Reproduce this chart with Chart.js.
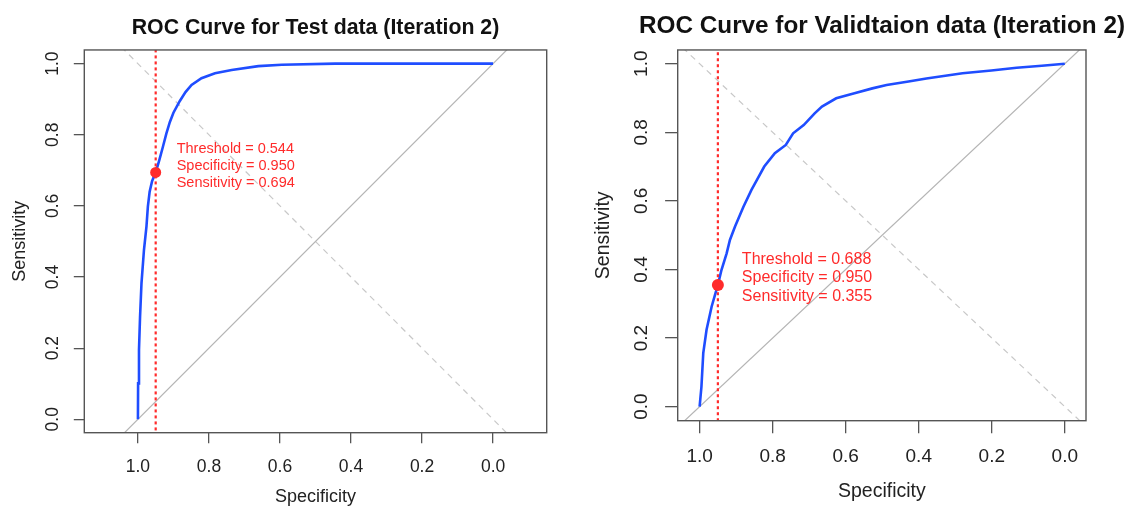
<!DOCTYPE html>
<html>
<head>
<meta charset="utf-8">
<script src="https://cdn.jsdelivr.net/npm/chart.js@4.4.1/dist/chart.umd.min.js"></script>
<style>
  html, body { margin: 0; padding: 0; background: #fff; overflow: hidden; }
  #wrap { position: relative; width: 1133px; height: 506px; }
  canvas { position: absolute; top: 0; }
</style>
</head>
<body>
<div id="wrap">
  <canvas id="rocTest" width="631" height="506" style="left:0"></canvas>
  <canvas id="rocValid" width="632" height="506" style="left:566px"></canvas>
</div>
<script>
// ---- data ----
const TICKS = [0, 0.2, 0.4, 0.6, 0.8, 1.0];

const TEST_SPEC = [1.0, 0.9995, 0.997, 0.994, 0.990, 0.983, 0.976, 0.972, 0.967, 0.960, 0.950, 0.940, 0.930, 0.920, 0.910, 0.900, 0.882, 0.866, 0.849, 0.821, 0.783, 0.736, 0.661, 0.595, 0.445, 0.0];
const TEST_SENS = [0.0, 0.101, 0.195, 0.289, 0.382, 0.476, 0.542, 0.598, 0.640, 0.670, 0.694, 0.728, 0.765, 0.803, 0.836, 0.862, 0.895, 0.920, 0.940, 0.959, 0.973, 0.982, 0.993, 0.997, 1.0, 1.0];

const VALID_SPEC = [1.0, 0.995, 0.990, 0.981, 0.967, 0.950, 0.940, 0.926, 0.917, 0.903, 0.880, 0.858, 0.843, 0.823, 0.794, 0.764, 0.744, 0.715, 0.685, 0.665, 0.626, 0.576, 0.527, 0.488, 0.428, 0.379, 0.280, 0.201, 0.132, 0.063, 0.0];
const VALID_SENS = [0.0, 0.058, 0.156, 0.224, 0.292, 0.355, 0.399, 0.447, 0.486, 0.525, 0.583, 0.632, 0.661, 0.700, 0.739, 0.763, 0.797, 0.821, 0.855, 0.875, 0.899, 0.914, 0.928, 0.938, 0.948, 0.957, 0.972, 0.980, 0.988, 0.994, 1.0];

// best threshold: [threshold, specificity, sensitivity]
const TEST_BEST = [0.544, 0.950, 0.694];
const VALID_BEST = [0.688, 0.950, 0.355];

// reference diagonals (clipped to plot box)
const CHANCE_LINE = [[1.2, -0.2], [-0.2, 1.2]];
const CROSS_LINE = [[1.2, 1.2], [-0.2, -0.2]];

const BLUE = '#1f4dff';
const RED = '#ff2b2b';
const FONT = "'Liberation Sans', Arial, Helvetica, sans-serif";

const toPts = (xs, ys) => xs.map((x, i) => ({ x: x, y: ys[i] }));

// draws the box around the plot and the threshold text
const boxAndLabel = {
    id: 'boxAndLabel',
    afterDatasetsDraw(chart, args, opts) {
        const { ctx, chartArea: a, scales } = chart;
        ctx.save();
        ctx.strokeStyle = '#555';
        ctx.lineWidth = 1.4;
        ctx.strokeRect(a.left, a.top, a.right - a.left, a.bottom - a.top);

        const best = opts.best;
        const px = scales.x.getPixelForValue(best[1]);
        const py = scales.y.getPixelForValue(best[2]);
        const lines = [
            'Threshold = ' + best[0].toFixed(3),
            'Specificity = ' + best[1].toFixed(3),
            'Sensitivity = ' + best[2].toFixed(3),
        ];
        ctx.fillStyle = RED;
        ctx.font = opts.size + 'px ' + FONT;
        ctx.textAlign = 'left';
        ctx.textBaseline = 'middle';
        lines.forEach((t, i) => {
            ctx.fillText(t, px + opts.dx, py + opts.dy + (i - 1) * opts.lh);
        });
        ctx.restore();
    }
};

function makeRoc(id, title, spec, sens, best, L) {
    const ctx = document.getElementById(id).getContext('2d');
    return new Chart(ctx, {
        type: 'scatter',
        data: {
            datasets: [
                {
                    data: [{ x: best[1], y: best[2] }],
                    pointRadius: L.dot, pointBackgroundColor: RED, pointBorderWidth: 0,
                },
                {
                    data: [{ x: best[1], y: -0.2 }, { x: best[1], y: 1.2 }],
                    showLine: true, pointRadius: 0, borderColor: RED, borderWidth: 2.2,
                    borderDash: [3, 3],
                },
                {
                    data: toPts(spec, sens),
                    showLine: true, pointRadius: 0, borderColor: BLUE, borderWidth: 2.6,
                },
                {
                    data: CHANCE_LINE.map(p => ({ x: p[0], y: p[1] })),
                    showLine: true, pointRadius: 0, borderColor: '#b4b4b4', borderWidth: 1.2,
                },
                {
                    data: CROSS_LINE.map(p => ({ x: p[0], y: p[1] })),
                    showLine: true, pointRadius: 0, borderColor: '#c8c8c8', borderWidth: 1.2,
                    borderDash: [6, 5],
                },
            ],
        },
        options: {
            responsive: false,
            animation: false,
            devicePixelRatio: 1,
            layout: { padding: 0 },
            plugins: {
                legend: { display: false },
                tooltip: { enabled: false },
                title: {
                    display: true, text: title, color: '#111',
                    font: { family: FONT, size: L.titleSize, weight: 'bold', lineHeight: 1.2 },
                    padding: { top: L.titleTop, bottom: L.titleBottom },
                },
                boxAndLabel: { best: best, size: L.noteSize, dx: L.noteDx, dy: L.noteDy, lh: L.noteLh },
            },
            scales: {
                x: {
                    type: 'linear', reverse: true, min: L.xMin, max: L.xMax,
                    afterBuildTicks: s => { s.ticks = TICKS.map(v => ({ value: v })); },
                    afterFit: s => { s.height = L.xHeight; },
                    grid: { drawOnChartArea: false, tickLength: L.tick, color: '#555', lineWidth: 1.3 },
                    border: { display: false },
                    ticks: {
                        autoSkip: false, maxRotation: 0, color: '#222', padding: L.xTickPad,
                        font: { family: FONT, size: L.tickSize, lineHeight: 1.2 },
                        callback: v => v.toFixed(1),
                    },
                    title: {
                        display: true, text: 'Specificity', color: '#222',
                        font: { family: FONT, size: L.axisSize, lineHeight: 1 },
                        padding: { top: 0, bottom: L.xTitlePad },
                    },
                },
                y: {
                    type: 'linear', min: L.yMin, max: L.yMax,
                    afterBuildTicks: s => { s.ticks = TICKS.map(v => ({ value: v })); },
                    afterFit: s => { s.width = L.yWidth; },
                    grid: { drawOnChartArea: false, tickLength: L.tick, color: '#555', lineWidth: 1.3 },
                    border: { display: false },
                    ticks: {
                        autoSkip: false, minRotation: 90, maxRotation: 90, crossAlign: 'center',
                        color: '#222', padding: L.yTickPad,
                        font: { family: FONT, size: L.tickSize, lineHeight: 1.2 },
                        callback: v => v.toFixed(1),
                    },
                    title: {
                        display: true, text: 'Sensitivity', color: '#222',
                        font: { family: FONT, size: L.axisSize, lineHeight: 1 },
                        padding: { top: L.yTitlePad, bottom: 0 },
                    },
                },
                // empty right margin, same width as the y axis, so the title centres over the plot
                yPad: {
                    type: 'linear', position: 'right', min: 0, max: 1,
                    afterFit: s => { s.width = L.rightWidth; },
                    grid: { display: false },
                    border: { display: false },
                    ticks: { display: false },
                },
            },
        },
        plugins: [boxAndLabel],
    });
}

makeRoc('rocTest', 'ROC Curve for Test data (Iteration 2)', TEST_SPEC, TEST_SENS, TEST_BEST, {
    rightWidth: 84.3, xHeight: 73.3, yWidth: 84.3,
    xMin: -0.151, xMax: 1.151, yMin: -0.0377, yMax: 1.0385,
    titleSize: 21.3, titleTop: 15.2, titleBottom: 9.2,
    tick: 10.5, tickSize: 17.5, xTickPad: 13.5, yTickPad: 8.5,
    axisSize: 18, xTitlePad: 0, yTitlePad: 10.8,
    noteSize: 14.5, noteDx: 21, noteDy: -6.7, noteLh: 17.2, dot: 5.5,
});

makeRoc('rocValid', 'ROC Curve for Validtaion data (Iteration 2)', VALID_SPEC, VALID_SENS, VALID_BEST, {
    rightWidth: 112, xHeight: 85.3, yWidth: 111.7,
    xMin: -0.058, xMax: 1.060, yMin: -0.041, yMax: 1.040,
    titleSize: 24.3, titleTop: 12.1, titleBottom: 8.7,
    tick: 12.6, tickSize: 19, xTickPad: 12, yTickPad: 10.2,
    axisSize: 19.5, xTitlePad: 4.5, yTitlePad: 28,
    noteSize: 16, noteDx: 24, noteDy: -7, noteLh: 18.5, dot: 6,
});
</script>
</body>
</html>
